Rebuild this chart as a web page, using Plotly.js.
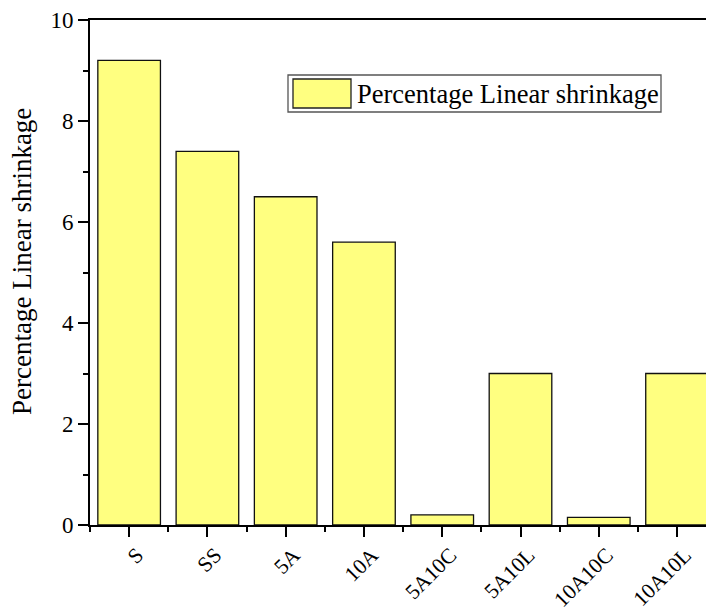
<!DOCTYPE html>
<html>
<head>
<meta charset="utf-8">
<script src="https://cdn.plot.ly/plotly-3.0.1.min.js"></script>
<style>html,body{margin:0;padding:0;background:#fff;overflow:hidden;}</style>
</head>
<body>
<div id="chart" style="width:706px;height:612px;"></div>
<script>
const categories = ["S", "SS", "5A", "10A", "5A10C", "5A10L", "10A10C", "10A10L"];
const shrinkage = [9.2, 7.4, 6.5, 5.6, 0.2, 3.0, 0.15, 3.0];
const seriesName = "Percentage Linear shrinkage";
const yTitle = "Percentage Linear shrinkage";
const yTickVals = [0, 2, 4, 6, 8, 10];

const positions = categories.map((c, i) => i);
const FONT = "Liberation Serif, Times New Roman, serif";

// pixel -> paper helpers (plot area 90..706 x, 20..525 y)
const L = 90, T = 20, W = 616, H = 505;
const px = x => (x - L) / W;
const py = y => (T + H - y) / H;

const trace = {
  type: "bar",
  x: positions,
  y: shrinkage,
  name: seriesName,
  width: 0.8,
  marker: { color: "#FFFF80", line: { color: "#111111", width: 1.3 } },
  showlegend: false,
  hoverinfo: "x+y"
};

const layout = {
  width: 706,
  height: 612,
  margin: { l: L, r: 0, t: T, b: 612 - T - H },
  paper_bgcolor: "#ffffff",
  plot_bgcolor: "#ffffff",
  font: { family: FONT, color: "#000000", size: 22 },
  bargap: 0.2,
  xaxis: {
    range: [-0.5, 7.37],
    tickmode: "array",
    tickvals: positions,
    ticktext: categories,
    tickangle: -45,
    ticks: "outside",
    ticklen: 10,
    tickwidth: 2,
    tickcolor: "#000",
    ticklabelshift: 8,
    ticklabelstandoff: -3,
    showline: true,
    linewidth: 2,
    linecolor: "#000",
    mirror: true,
    showgrid: false,
    zeroline: false,
    tickfont: { family: FONT, size: 21.5 },
    minor: { tickmode: "linear", tick0: 0.5, dtick: 1, ticks: "outside", ticklen: 5, tickwidth: 2, tickcolor: "#000", showgrid: false }
  },
  yaxis: {
    range: [0, 10],
    tickmode: "array",
    tickvals: yTickVals,
    ticks: "outside",
    ticklen: 10,
    tickwidth: 2,
    tickcolor: "#000",
    showline: true,
    linewidth: 2,
    linecolor: "#000",
    mirror: false,
    showgrid: false,
    zeroline: false,
    tickfont: { family: FONT, size: 23 },
    minor: { tickmode: "linear", tick0: 1, dtick: 1, ticks: "outside", ticklen: 5, tickwidth: 2, tickcolor: "#000", showgrid: false }
  },
  shapes: [
    { type: "rect", xref: "paper", yref: "paper", x0: px(288), x1: px(661), y0: py(112), y1: py(75),
      line: { color: "#555555", width: 1.3 }, fillcolor: "#ffffff", layer: "above" },
    { type: "rect", xref: "paper", yref: "paper", x0: px(293), x1: px(351), y0: py(108), y1: py(79),
      line: { color: "#222222", width: 1.3 }, fillcolor: "#FFFF80", layer: "above" }
  ],
  annotations: [
    { xref: "paper", yref: "paper", x: px(355), y: py(94), xanchor: "left", yanchor: "middle",
      text: seriesName, showarrow: false, font: { family: FONT, size: 26.5, color: "#000" } },
    { xref: "paper", yref: "paper", x: px(22), y: py(262), xanchor: "center", yanchor: "middle",
      textangle: -90, text: yTitle, showarrow: false, font: { family: FONT, size: 27, color: "#000" } }
  ]
};

Plotly.newPlot("chart", [trace], layout, { displayModeBar: false, staticPlot: true });
</script>
</body>
</html>
